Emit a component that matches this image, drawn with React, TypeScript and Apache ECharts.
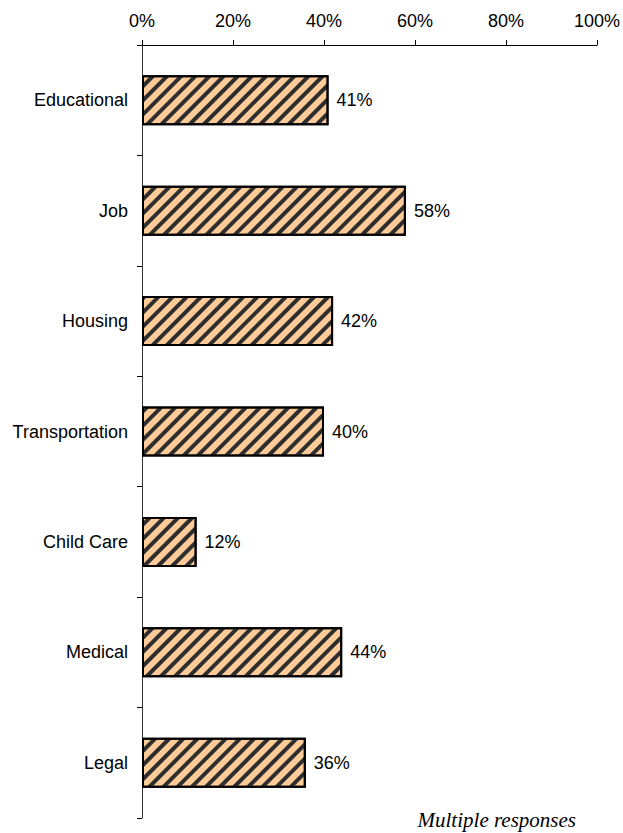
import React, { useEffect, useRef } from "react";
import * as echarts from "echarts";

const categories = ["Educational", "Job", "Housing", "Transportation", "Child Care", "Medical", "Legal"];
const values = [41, 58, 42, 40, 12, 44, 36];
const xTicks = [0, 20, 40, 60, 80, 100];
const footnote = "Multiple responses";

export default function App() {
  const ref = useRef<HTMLDivElement>(null);
  useEffect(() => {
    const chart = echarts.init(ref.current!, null, { renderer: "svg" });
    chart.setOption({
      animation: false,
      backgroundColor: "#ffffff",
      grid: { left: 142, right: 26, top: 45, bottom: 15, containLabel: false },
      xAxis: {
        type: "value",
        position: "top",
        min: 0,
        max: 100,
        interval: 20,
        axisLine: { show: true, lineStyle: { color: "#000", width: 1 } },
        axisTick: { show: true, length: 5, lineStyle: { color: "#000" } },
        axisLabel: {
          margin: 15,
          fontSize: 18,
          color: "#000",
          fontFamily: "Liberation Sans, Arial, sans-serif",
          formatter: (v: number) => (xTicks.includes(v) ? v + "%" : ""),
        },
        splitLine: { show: false },
      },
      yAxis: {
        type: "category",
        data: categories,
        inverse: true,
        axisLine: { show: true, lineStyle: { color: "#333", width: 1 } },
        axisTick: { show: true, length: 5, lineStyle: { color: "#000" } },
        axisLabel: {
          margin: 14,
          fontSize: 18,
          color: "#000",
          fontFamily: "Liberation Sans, Arial, sans-serif",
        },
      },
      series: [
        {
          type: "bar",
          data: values,
          barWidth: 50,
          itemStyle: {
            color: "#FFCC99",
            borderColor: "#000",
            borderWidth: 2,
            decal: {
              symbol: "rect",
              symbolSize: 1,
              color: "#2e2e2e",
              dashArrayX: [1, 0],
              dashArrayY: [3.5, 5.5],
              rotation: -Math.PI / 4,
            },
          },
          label: {
            show: true,
            position: "right",
            distance: 8,
            fontSize: 18,
            color: "#000",
            fontFamily: "Liberation Sans, Arial, sans-serif",
            formatter: (p: any) => p.value + "%",
          },
        },
      ],
      graphic: [
        {
          type: "text",
          right: 47,
          top: 809,
          style: {
            text: footnote,
            font: "italic 21px 'Liberation Serif', 'Times New Roman', serif",
            fill: "#000",
          },
        },
      ],
    });
    return () => chart.dispose();
  }, []);
  return <div ref={ref} style={{ width: 623, height: 833, position: "absolute", left: 0, top: 0 }} />;
}
